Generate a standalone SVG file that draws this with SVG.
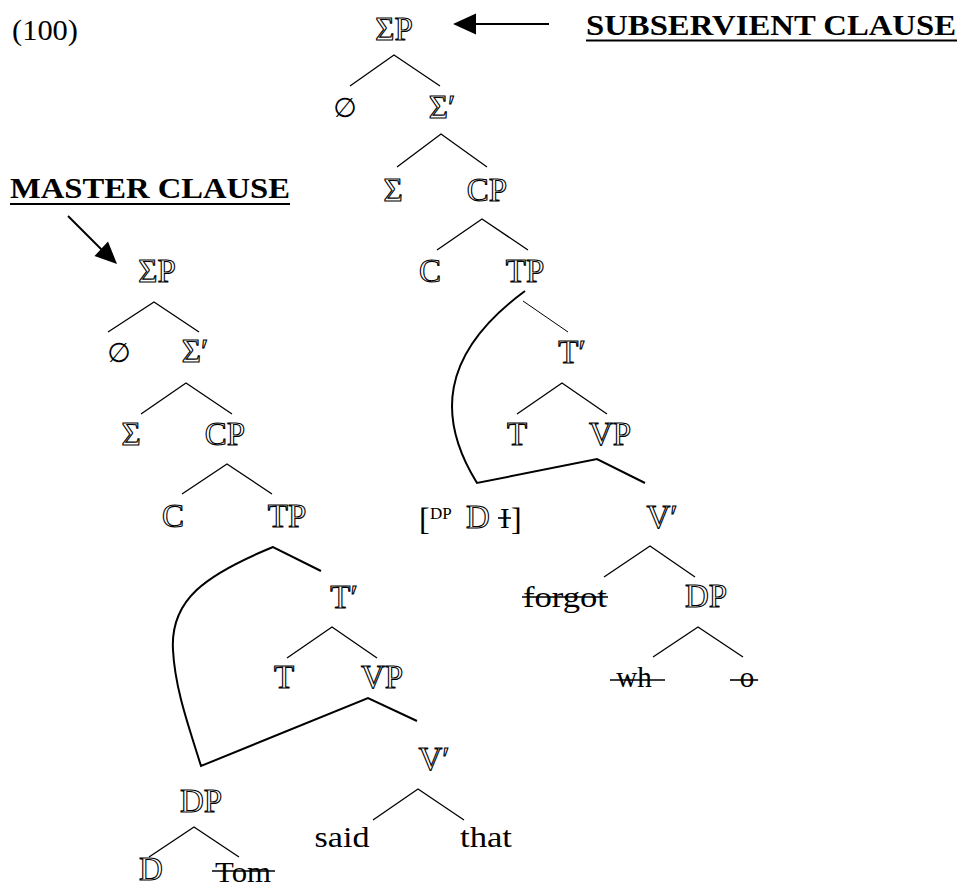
<svg xmlns="http://www.w3.org/2000/svg" width="964" height="888" viewBox="0 0 964 888">
<style>
.o{font-family:"Liberation Serif",serif;font-size:33px;fill:#fff;stroke:#000;stroke-width:1.1;text-anchor:middle}
.t{font-family:"Liberation Serif",serif;font-size:29px;fill:#000;text-anchor:middle}
.b{font-family:"Liberation Serif",serif;font-size:29px;font-weight:bold;fill:#000}
.e{font-family:"DejaVu Sans",sans-serif;font-size:27px;fill:#000;text-anchor:middle}
.l{fill:none;stroke:#000;stroke-width:1.3}
.c{fill:none;stroke:#000;stroke-width:2}
.s{stroke:#000;stroke-width:1.6}
</style>
<rect width="964" height="888" fill="#fff"/>
<text class="t" x="12" y="40" style="text-anchor:start" textLength="66" lengthAdjust="spacingAndGlyphs">(100)</text>
<g id="label-subservient">
<text class="b" x="586" y="35" textLength="370" lengthAdjust="spacingAndGlyphs">SUBSERVIENT CLAUSE</text>
<line x1="586" y1="40.5" x2="957" y2="40.5" stroke="#000" stroke-width="2"/>
</g>
<g id="label-master">
<text class="b" x="10" y="198" textLength="280" lengthAdjust="spacingAndGlyphs">MASTER CLAUSE</text>
<line x1="10" y1="204" x2="290" y2="204" stroke="#000" stroke-width="2"/>
</g>
<g id="arrows">
<line x1="474" y1="24" x2="549" y2="24" stroke="#000" stroke-width="2"/>
<polygon points="453,24 476,13.5 476,34.5" fill="#000"/>
<line x1="68" y1="216" x2="103" y2="251" stroke="#000" stroke-width="2"/>
<polygon points="117,264 94.5,256 108,241.5" fill="#000"/>
</g>
<g id="connectors">
<path class="l" d="M350,86 L394,55 L440,86"/>
<path class="l" d="M397,167 L441,134 L487,167"/>
<path class="l" d="M437,250 L482,219 L528,250"/>
<path class="c" d="M525,291 C438,355 438,420 477,483 L597,459 L645,483"/>
<line x1="523" y1="301" x2="568" y2="332" stroke="#000" stroke-width="1"/>
<path class="l" d="M517,414 L562,383 L607,414"/>
<path class="l" d="M604,577 L650,546 L695,577"/>
<path class="l" d="M653,657 L698,627 L743,657"/>
<path class="l" d="M108,332 L154,302 L199,332"/>
<path class="l" d="M141,414 L186,383 L232,414"/>
<path class="l" d="M182,494 L227,464 L272,494"/>
<path class="c" d="M321,571 L273,547 C205,575 170,600 173,650 C175,690 190,730 201,766 L368,698 L417,721"/>
<path class="l" d="M287,658 L332,627 L377,658"/>
<path class="l" d="M373,820 L418,789 L464,820"/>
<path class="l" d="M149,857 L194,827 L239,857"/>
</g>
<g id="n-sub-SigmaP"><text class="o" x="394" y="40">ΣP</text></g>
<g id="n-sub-null"><text class="e" x="345" y="117">∅</text></g>
<g id="n-sub-SigmaBar"><text class="o" x="442" y="118">Σ′</text></g>
<g id="n-sub-Sigma"><text class="o" x="393" y="201">Σ</text></g>
<g id="n-sub-CP"><text class="o" x="487" y="201">CP</text></g>
<g id="n-sub-C"><text class="o" x="430" y="282">C</text></g>
<g id="n-sub-TP"><text class="o" x="525" y="282">TP</text></g>
<g id="n-sub-TBar"><text class="o" x="572" y="363">T′</text></g>
<g id="n-sub-T"><text class="o" x="517" y="445">T</text></g>
<g id="n-sub-VP"><text class="o" x="610" y="445">VP</text></g>
<g id="n-sub-DP-bracket">
<text class="t" x="419" y="530" style="text-anchor:start;font-size:32px">[</text>
<text class="t" x="430" y="519" style="text-anchor:start;font-size:17px">DP</text>
<text class="o" x="466" y="528" style="text-anchor:start">D</text>
<text class="t" x="500" y="528" style="text-anchor:start">I</text>
<line class="s" x1="498" y1="518" x2="511" y2="518"/>
<text class="t" x="511" y="530" style="text-anchor:start;font-size:32px">]</text>
</g>
<g id="n-sub-VBar"><text class="o" x="662" y="528">V′</text></g>
<g id="n-sub-forgot"><text class="t" x="565" y="607" textLength="84" lengthAdjust="spacingAndGlyphs">forgot</text><line class="s" x1="522" y1="597" x2="608" y2="597"/></g>
<g id="n-sub-DP"><text class="o" x="706" y="607">DP</text></g>
<g id="n-sub-wh"><text class="t" x="634" y="687">wh</text><line class="s" x1="610" y1="680" x2="665" y2="680"/></g>
<g id="n-sub-o"><text class="t" x="747" y="687">o</text><line class="s" x1="730" y1="680" x2="758" y2="680"/></g>
<g id="n-mas-SigmaP"><text class="o" x="157" y="282">ΣP</text></g>
<g id="n-mas-null"><text class="e" x="119" y="362">∅</text></g>
<g id="n-mas-SigmaBar"><text class="o" x="195" y="362">Σ′</text></g>
<g id="n-mas-Sigma"><text class="o" x="131" y="445">Σ</text></g>
<g id="n-mas-CP"><text class="o" x="225" y="445">CP</text></g>
<g id="n-mas-C"><text class="o" x="173" y="527">C</text></g>
<g id="n-mas-TP"><text class="o" x="287" y="527">TP</text></g>
<g id="n-mas-TBar"><text class="o" x="344" y="608">T′</text></g>
<g id="n-mas-T"><text class="o" x="284" y="688">T</text></g>
<g id="n-mas-VP"><text class="o" x="382" y="688">VP</text></g>
<g id="n-mas-VBar"><text class="o" x="434" y="770">V′</text></g>
<g id="n-mas-DP"><text class="o" x="201" y="812">DP</text></g>
<g id="n-mas-said"><text class="t" x="342" y="847" textLength="55" lengthAdjust="spacingAndGlyphs">said</text></g>
<g id="n-mas-that"><text class="t" x="486" y="847" textLength="52" lengthAdjust="spacingAndGlyphs">that</text></g>
<g id="n-mas-D"><text class="o" x="151" y="880">D</text></g>
<g id="n-mas-Tom"><text class="t" x="243" y="882" textLength="56" lengthAdjust="spacingAndGlyphs">Tom</text><line class="s" x1="212" y1="871" x2="275" y2="871"/></g>
</svg>
